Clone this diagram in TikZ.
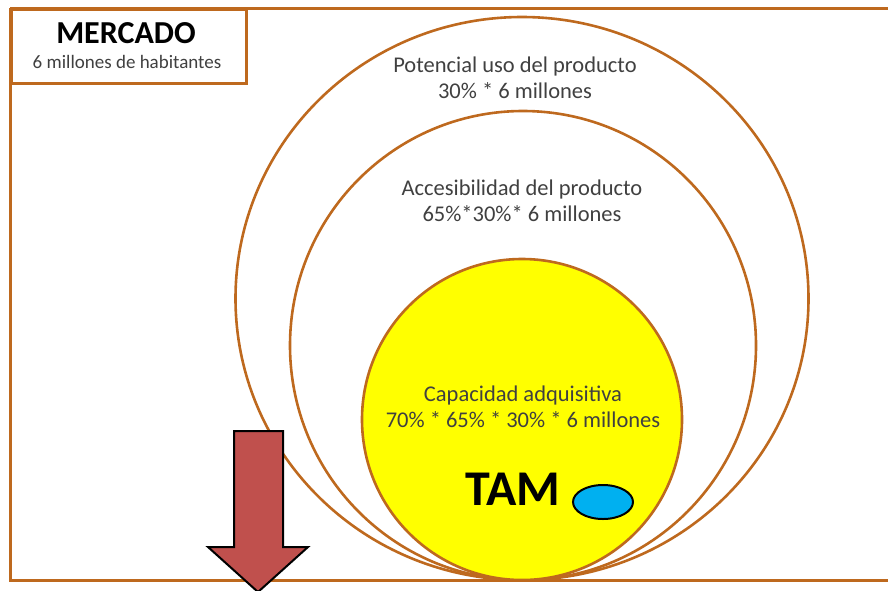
\documentclass[tikz,border=0pt]{standalone}
\usepackage{fontspec}
\setmainfont{Carlito}
\usetikzlibrary{shapes.geometric}
\definecolor{brownline}{RGB}{190,105,30}
\definecolor{txtgray}{RGB}{64,64,64}
\definecolor{tamblue}{RGB}{0,176,240}
\definecolor{arrowred}{RGB}{192,80,77}
\definecolor{tamyellow}{RGB}{255,255,0}
\begin{document}
\begin{tikzpicture}[x=1pt,y=-1pt,
  ring/.style={draw=brownline,line width=2.6pt},
  lbl/.style={text=txtgray,font=\fontsize{22.5}{26}\selectfont,align=center,inner sep=0pt}]
\useasboundingbox (0,0) rectangle (888,590);
% frame
\draw[brownline,line width=3pt] (10,8) -- (888,8);
\draw[brownline,line width=3pt] (10,8) -- (10,580) -- (888,580);
\node[draw=brownline,line width=3pt,fill=white,minimum width=235pt,minimum height=74pt,anchor=north west,inner sep=0pt] (mkt) at (10,8) {};
\node[font=\bfseries\fontsize{32}{34}\selectfont,text=black,inner sep=0pt] (mtitle) at (126,33) {MERCADO};
\node[font=\fontsize{19}{21}\selectfont,text=txtgray,inner sep=0pt] (msub) at (127,62) {6 millones de habitantes};
% circles
\draw[ring] (522,298.5) ellipse [x radius=286.5, y radius=281.5];
\draw[ring] (523,345.5) ellipse [x radius=233, y radius=234.5];
\draw[ring,fill=tamyellow] (522,419.5) ellipse [x radius=160, y radius=160.5];
% labels
\node[lbl] (pot) at (515,78) {Potencial uso del producto\\30\% * 6 millones};
\node[lbl] (acc) at (522,201) {Accesibilidad del producto\\65\%*30\%* 6 millones};
\node[lbl] (cap) at (523,407) {Capacidad adquisitiva\\70\% * 65\% * 30\% * 6 millones};
\node[font=\bfseries\fontsize{50}{52}\selectfont,text=black,inner sep=0pt] (tam) at (513,489) {TAM};
\node[draw=black,line width=2pt,fill=tamblue,ellipse,minimum width=60pt,minimum height=34pt,inner sep=0pt] (blue) at (603,502) {};
% arrow
\draw[black,line width=2pt,fill=arrowred,line join=miter]
  (234,431) -- (283,431) -- (283,547) -- (308,547) -- (258,592) -- (208,547) -- (234,547) -- cycle;
\end{tikzpicture}
\end{document}
